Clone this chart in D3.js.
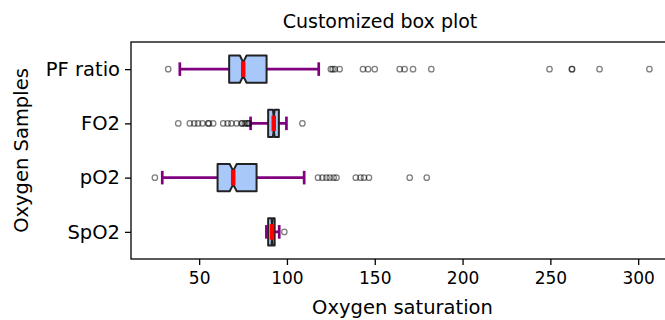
<!DOCTYPE html>
<html>
<head>
<meta charset="utf-8">
<script src="https://cdn.jsdelivr.net/npm/d3@7"></script>
<style>
  body { margin: 0; background: #fff; }
  svg { display: block; font-family: "DejaVu Sans", sans-serif; }
</style>
</head>
<body>
<svg id="chart" width="665" height="320"></svg>
<script>
// ---- data ----
const categories = ["SpO2", "pO2", "FO2", "PF ratio"];
const whiskerLo  = [88.3, 29.0, 79.3, 39.0];
const q1Values   = [89.3, 60.5, 89.3, 67.1];
const medians    = [91.5, 69.4, 92.5, 75.1];
const q3Values   = [93.0, 82.7, 95.4, 88.4];
const whiskerHi  = [95.6, 109.8, 99.7, 118.1];
const notchLo    = [91.2, 67.4, 92.0, 73.2];
const notchHi    = [91.8, 71.4, 93.0, 77.0];
const fliersSpO2 = [98.5];
const fliersPO2  = [24.8, 117.7, 120.2, 122.5, 124.4, 126.6, 128.2, 139.2, 141.9, 143.9, 146.7, 169.9, 179.6];
const fliersFO2  = [38.1, 44.7, 47.2, 49.4, 51.9, 55.1, 55.6, 58.0, 63.7, 66.2, 68.4, 71.3, 74.1, 74.6, 76.0, 77.0, 77.9, 78.3, 108.8];
const fliersPF   = [32.4, 125.0, 126.0, 127.3, 130.0, 143.3, 146.2, 150.0, 164.2, 167.0, 171.8, 182.2, 249.5, 262.2, 262.4, 278.0, 306.4];
const fliers = [fliersSpO2, fliersPO2, fliersFO2, fliersPF];
const xTicks = [50, 100, 150, 200, 250, 300];
const titleText = "Customized box plot";
const xLabel = "Oxygen saturation";
const yLabel = "Oxygen Samples";

(function () {
// ---- layout ----
const pL = 131, pR = 674, pT = 42, pB = 259;
const svg = d3.select("#chart");

const x = d3.scaleLinear().domain([11.2, 320.4]).range([pL, pR]);
const y = d3.scaleLinear().domain([0.5, 4.5]).range([pB, pT]);
const boxW = 0.5;
const halfPx = (y(0) - y(boxW / 2));      // half box height in px

// frame
svg.append("rect")
  .attr("x", pL).attr("y", pT)
  .attr("width", pR - pL).attr("height", pB - pT)
  .attr("fill", "none").attr("stroke", "#000").attr("stroke-width", 1.3);

// x axis
const xAxis = d3.axisBottom(x).tickValues(xTicks).tickSize(6).tickPadding(7);
const gx = svg.append("g").attr("transform", `translate(0,${pB})`).call(xAxis);
gx.select(".domain").remove();
gx.selectAll("line").attr("stroke", "#000").attr("stroke-width", 1.3);
gx.selectAll("text").attr("font-size", 17).attr("fill", "#000")
  .attr("font-family", "DejaVu Sans");

// y axis
const yAxis = d3.axisLeft(y).tickValues([1, 2, 3, 4])
  .tickFormat((d) => categories[d - 1]).tickSize(6).tickPadding(5);
const gy = svg.append("g").attr("transform", `translate(${pL},0)`).call(yAxis);
gy.select(".domain").remove();
gy.selectAll("line").attr("stroke", "#000").attr("stroke-width", 1.3);
gy.selectAll("text").attr("font-size", 19.5).attr("fill", "#000")
  .attr("font-family", "DejaVu Sans");

// plot group clipped to axes
svg.append("clipPath").attr("id", "clip").append("rect")
  .attr("x", pL).attr("y", pT).attr("width", pR - pL).attr("height", pB - pT);
const g = svg.append("g").attr("clip-path", "url(#clip)");

categories.forEach((c, i) => {
  const pos = i + 1;
  const yc = y(pos);
  const yT = yc - halfPx, yB = yc + halfPx;
  const yNT = yc - halfPx / 2, yNB = yc + halfPx / 2;

  // whiskers
  g.append("line").attr("x1", x(whiskerLo[i])).attr("x2", x(q1Values[i]))
    .attr("y1", yc).attr("y2", yc).attr("stroke", "#800080").attr("stroke-width", 2.7);
  g.append("line").attr("x1", x(q3Values[i])).attr("x2", x(whiskerHi[i]))
    .attr("y1", yc).attr("y2", yc).attr("stroke", "#800080").attr("stroke-width", 2.7);

  // notched box
  const pts = [
    [x(q1Values[i]), yT], [x(notchLo[i]), yT], [x(medians[i]), yNT], [x(notchHi[i]), yT],
    [x(q3Values[i]), yT], [x(q3Values[i]), yB], [x(notchHi[i]), yB], [x(medians[i]), yNB],
    [x(notchLo[i]), yB], [x(q1Values[i]), yB]
  ];
  g.append("path").attr("d", d3.line()(pts) + "Z")
    .attr("fill", "#a8c8fa").attr("stroke", "#222").attr("stroke-width", 2)
    .attr("stroke-linejoin", "round");

  // caps
  [whiskerLo[i], whiskerHi[i]].forEach((v) => {
    g.append("line").attr("x1", x(v)).attr("x2", x(v))
      .attr("y1", yc - halfPx / 2).attr("y2", yc + halfPx / 2)
      .attr("stroke", "#800080").attr("stroke-width", 2.7);
  });

  // median
  g.append("line").attr("x1", x(medians[i])).attr("x2", x(medians[i]))
    .attr("y1", yNT - 1).attr("y2", yNB + 1)
    .attr("stroke", "red").attr("stroke-width", 4.5);

  // fliers
  g.selectAll(null).data(fliers[i]).enter().append("circle")
    .attr("cx", (d) => x(d)).attr("cy", yc).attr("r", 2.7)
    .attr("fill", "none").attr("stroke", "#000").attr("stroke-opacity", 0.5)
    .attr("stroke-width", 1.3);
});

// titles
svg.append("text").attr("x", 380).attr("y", 28).attr("text-anchor", "middle")
  .attr("font-size", 19).attr("fill", "#000").text(titleText);
svg.append("text").attr("x", (pL + pR) / 2).attr("y", 314).attr("text-anchor", "middle")
  .attr("font-size", 19.5).attr("fill", "#000").text(xLabel);
svg.append("text").attr("transform", `translate(28,${(pT + pB) / 2}) rotate(-90)`)
  .attr("text-anchor", "middle").attr("font-size", 19.5).attr("fill", "#000").text(yLabel);
})();
</script>
</body>
</html>
